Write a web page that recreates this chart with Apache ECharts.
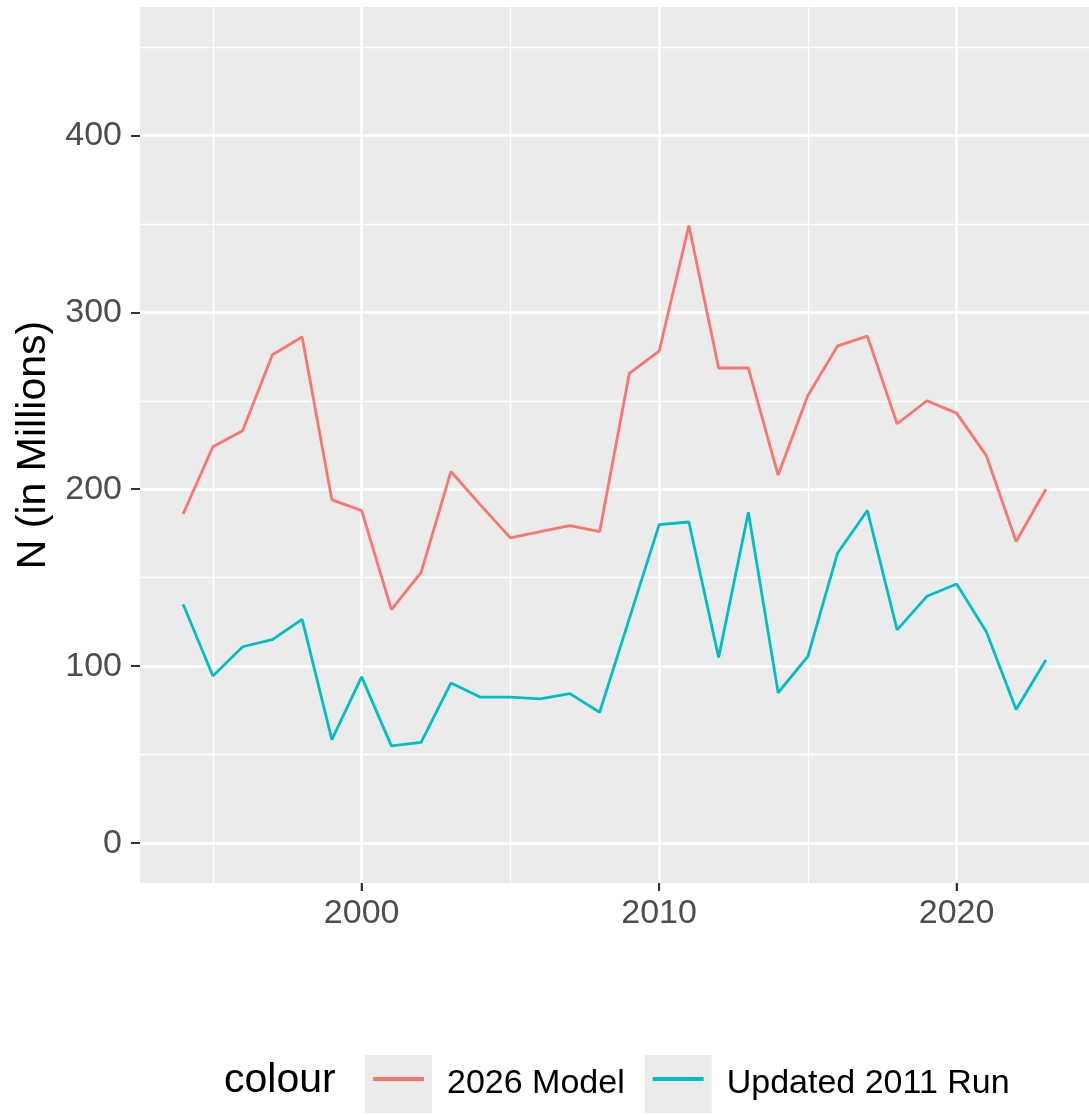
<!DOCTYPE html>
<html>
<head>
<meta charset="utf-8">
<script src="https://cdn.jsdelivr.net/npm/echarts@6/dist/echarts.min.js"></script>
<style>
  html, body { margin: 0; padding: 0; background: #fff; }
  #main { width: 1089px; height: 1115px; }
</style>
</head>
<body>
<div id="main"></div>
<script>
var years = [1994, 1995, 1996, 1997, 1998, 1999, 2000, 2001, 2002, 2003,
             2004, 2005, 2006, 2007, 2008, 2009, 2010, 2011, 2012, 2013,
             2014, 2015, 2016, 2017, 2018, 2019, 2020, 2021, 2022, 2023];
var model2026 = [186, 224, 233, 276, 286, 194, 188, 132, 153, 210,
                 191, 172.5, 176, 179.5, 176, 265.5, 278, 349, 268.5, 268.5,
                 208, 253, 281, 286.5, 237, 250, 243, 219, 170.5, 200];
var run2011 = [135, 94.5, 111, 115, 126.5, 58.5, 94, 55, 57, 90.5,
               82.5, 82.5, 81.5, 84.5, 74, 127, 180, 181.5, 105, 187,
               85, 105.5, 164, 188, 120.5, 139.5, 146.5, 119.5, 75.5, 103.5];
var seriesNames = ['2026 Model', 'Updated 2011 Run'];
var seriesColors = ['#F8766D', '#00BFC4'];
var xMajor = [2000, 2010, 2020];
var xMinor = [1995, 2005, 2015];
var yMajor = [0, 100, 200, 300, 400];
var yMinor = [50, 150, 250, 350, 450];
var xRange = [1992.55, 2024.45];
var yRange = [-22.5, 472.5];

function pairs(vals) {
    return years.map(function (y, i) { return [y, vals[i]]; });
}

var myChart = echarts.init(document.getElementById('main'), null, { renderer: 'canvas' });

var font = 'Liberation Sans, Arial, sans-serif';
var legendTop = 1050;

var option = {
    animation: false,
    grid: {
        left: 140, top: 7, width: 953, height: 876,
        show: true, backgroundColor: '#EBEBEB', borderWidth: 0
    },
    xAxis: [
        {
            // minor grid (drawn first, underneath)
            type: 'value', position: 'top', min: xRange[0], max: xRange[1],
            axisLine: { show: false, onZero: false },
            axisTick: { show: false, customValues: xMinor },
            axisLabel: { show: false },
            splitLine: { show: true, lineStyle: { color: '#FFFFFF', width: 1.3 } }
        },
        {
            type: 'value', position: 'bottom', min: xRange[0], max: xRange[1],
            axisLine: { show: false, onZero: false },
            axisTick: { show: true, length: 8, customValues: xMajor, lineStyle: { color: '#333333', width: 2 } },
            axisLabel: {
                customValues: xMajor, margin: 14, color: '#4D4D4D', fontSize: 34, fontFamily: font,
                formatter: function (v) { return String(v); }
            },
            splitLine: { show: true, lineStyle: { color: '#FFFFFF', width: 2.6 } }
        }
    ],
    yAxis: [
        {
            type: 'value', position: 'right', min: yRange[0], max: yRange[1],
            axisLine: { show: false, onZero: false },
            axisTick: { show: false, customValues: yMinor },
            axisLabel: { show: false },
            splitLine: { show: true, lineStyle: { color: '#FFFFFF', width: 1.3 } }
        },
        {
            type: 'value', position: 'left', min: yRange[0], max: yRange[1],
            axisLine: { show: false, onZero: false },
            axisTick: { show: true, length: 9, customValues: yMajor, lineStyle: { color: '#333333', width: 2 } },
            axisLabel: { customValues: yMajor, margin: 18, color: '#4D4D4D', fontSize: 34, fontFamily: font },
            splitLine: { show: true, lineStyle: { color: '#FFFFFF', width: 2.6 } },
            name: 'N (in Millions)',
            nameLocation: 'middle',
            nameGap: 86,
            nameTextStyle: { color: '#000000', fontSize: 41, fontFamily: font }
        }
    ],
    legend: [
        {
            // grey key boxes + labels
            left: 360, top: legendTop, orient: 'horizontal',
            icon: 'rect', itemWidth: 67, itemHeight: 58, itemGap: 20,
            itemStyle: { color: '#EBEBEB', borderWidth: 0 },
            selectedMode: false,
            textStyle: { color: '#000000', fontSize: 34, fontFamily: font, padding: [0, 0, 0, 10] },
            data: seriesNames
        },
        {
            // coloured line inside each key box
            left: 360 + 8, top: legendTop + 7, orient: 'horizontal',
            icon: 'rect', itemWidth: 51, itemHeight: 4, itemGap: 20 + 16,
            selectedMode: false,
            textStyle: { color: 'rgba(0,0,0,0)', fontSize: 34, fontFamily: font, padding: [0, 0, 0, 10] },
            data: seriesNames
        }
    ],
    graphic: [
        {
            type: 'text', left: 224, top: 1060,
            style: { text: 'colour', fill: '#000000', font: '41px ' + font }
        }
    ],
    series: [
        {
            name: seriesNames[0], type: 'line', xAxisIndex: 1, yAxisIndex: 1,
            data: pairs(model2026), showSymbol: false, symbol: 'none',
            lineStyle: { color: seriesColors[0], width: 2.8 },
            itemStyle: { color: seriesColors[0] }
        },
        {
            name: seriesNames[1], type: 'line', xAxisIndex: 1, yAxisIndex: 1,
            data: pairs(run2011), showSymbol: false, symbol: 'none',
            lineStyle: { color: seriesColors[1], width: 2.8 },
            itemStyle: { color: seriesColors[1] }
        },
        {
            // x tick marks under the panel edge
            name: 'xticks', type: 'scatter', xAxisIndex: 1, yAxisIndex: 1,
            data: xMajor.map(function (v) { return [v, yRange[0]]; }),
            symbol: 'rect', symbolSize: [2, 8], symbolOffset: [0, 4],
            itemStyle: { color: '#333333' },
            clip: false, silent: true, z: 5
        }
    ]
};
myChart.setOption(option);
</script>
</body>
</html>
